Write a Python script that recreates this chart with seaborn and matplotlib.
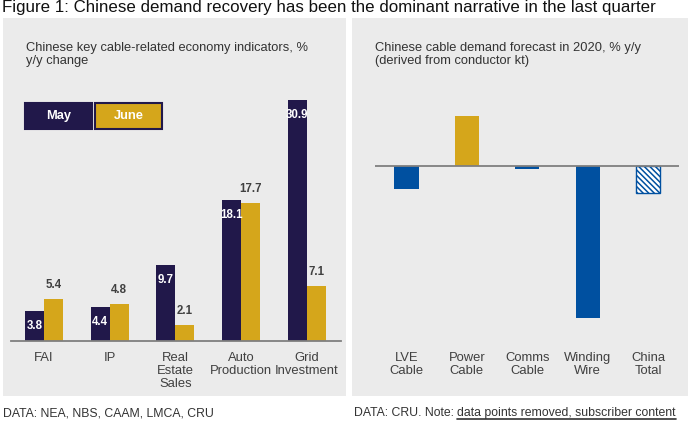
import matplotlib
matplotlib.use("Agg")
import matplotlib.pyplot as plt
import seaborn as sns
import pandas as pd
from matplotlib.patches import Rectangle
from matplotlib.lines import Line2D

# data
indicators = ["FAI", "IP", "Real\nEstate\nSales", "Auto\nProduction", "Grid\nInvestment"]
months = ["May", "June"]
may_vals = [3.8, 4.4, 9.7, 18.1, 30.9]
june_vals = [5.4, 4.8, 2.1, 17.7, 7.1]

segments = ["LVE\nCable", "Power\nCable", "Comms\nCable", "Winding\nWire", "China\nTotal"]
# values not printed in the source
forecast_vals = [-4.6, 10.0, -0.6, -30.4, -5.4]

NAVY = "#21184a"
GOLD = "#d5a61b"
BLUE = "#0050a0"
PANEL = "#ebebeb"
TXT = "#404040"

sns.set_theme(style="white")
plt.rcParams["font.family"] = ["Liberation Sans", "DejaVu Sans"]
plt.rcParams["hatch.color"] = BLUE
plt.rcParams["hatch.linewidth"] = 1.1

W, H = 698, 422
fig = plt.figure(figsize=(W / 100, H / 100), dpi=100)


def fx(px):
    return px / W


def fy(py):
    return 1 - py / H


def box(x0, y0, x1, y1):
    return [x0 / W, 1 - y1 / H, (x1 - x0) / W, (y1 - y0) / H]


# grey panels behind both charts
for x0, x1 in [(3, 346), (352, 688)]:
    fig.patches.append(Rectangle((fx(x0), fy(396)), (x1 - x0) / W, (396 - 18) / H,
                                 transform=fig.transFigure, facecolor=PANEL,
                                 edgecolor="none", zorder=-1))

fig.text(fx(2), fy(0), "Figure 1: Chinese demand recovery has been the dominant narrative in the last quarter",
         va="top", ha="left", fontsize=12.2, color="#111111")

# ---- left chart
ax1 = fig.add_axes(box(11, 84, 341, 341))
ax1.set_facecolor("none")
df1 = pd.DataFrame({
    "indicator": indicators * 2,
    "month": [m for m in months for _ in indicators],
    "value": may_vals + june_vals,
})
sns.barplot(data=df1, x="indicator", y="value", hue="month", palette=[NAVY, GOLD],
            width=0.58, saturation=1, linewidth=0, legend=False, ax=ax1)

for bar, v in zip(ax1.containers[0], may_vals):
    ax1.annotate(f"{v:.1f}", (bar.get_x() + bar.get_width() / 2, bar.get_height()),
                 xytext=(0, -15), textcoords="offset pixels", ha="center", va="center",
                 color="white", fontweight="bold", fontsize=8.3)
for bar, v in zip(ax1.containers[1], june_vals):
    ax1.annotate(f"{v:.1f}", (bar.get_x() + bar.get_width() / 2, bar.get_height()),
                 xytext=(0, 14), textcoords="offset pixels", ha="center", va="center",
                 color=TXT, fontweight="bold", fontsize=8.3)

ax1.set_xlim(-0.5, 4.52)
ax1.set_ylim(0, 33)

# ---- right chart
ax2 = fig.add_axes(box(375, 106, 679, 341))
ax2.set_facecolor("none")
df2 = pd.DataFrame({"segment": segments, "value": forecast_vals})
sns.barplot(data=df2, x="segment", y="value", hue="segment",
            palette=[BLUE, GOLD, BLUE, BLUE, BLUE], width=0.4, saturation=1,
            linewidth=0, legend=False, ax=ax2)
total_bar = ax2.patches[-1]
total_bar.set_facecolor("white")
total_bar.set_edgecolor(BLUE)
total_bar.set_linewidth(1)
total_bar.set_hatch("\\\\\\\\\\\\")
ax2.axhline(0, color="#7f7f7f", lw=1.3, zorder=3)
ax2.set_xlim(-0.52, 4.51)
ax2.set_ylim(-35, 12)

for ax in (ax1, ax2):
    sns.despine(ax=ax, left=True, top=True, right=True, bottom=(ax is ax2))
    ax.set_yticks([])
    ax.set_xlabel("")
    ax.set_ylabel("")
    ax.tick_params(axis="x", length=0, pad=8, labelsize=9.4, labelcolor=TXT)
    for lab in ax.get_xticklabels():
        lab.set_linespacing(1.1)
ax1.spines["bottom"].set_color("#7f7f7f")
ax1.spines["bottom"].set_linewidth(1.3)

# subtitles
fig.text(fx(26), fy(42), "Chinese key cable-related economy indicators, %\ny/y change",
         va="top", ha="left", fontsize=9.3, color="#333333", linespacing=1.1)
fig.text(fx(375), fy(42), "Chinese cable demand forecast in 2020, % y/y\n(derived from conductor kt)",
         va="top", ha="left", fontsize=9.3, color="#333333", linespacing=1.1)

# legend boxes
legend_boxes = [(25, 92, NAVY), (95, 162, GOLD)]
for (x0, x1, col), name in zip(legend_boxes, months):
    fig.patches.append(Rectangle((fx(x0), fy(129)), (x1 - x0) / W, 26 / H,
                                 transform=fig.transFigure, facecolor=col,
                                 edgecolor=NAVY, linewidth=1.5, zorder=2))
    fig.text(fx((x0 + x1) / 2), fy(116), name, ha="center", va="center",
             color="white", fontweight="bold", fontsize=9.3, zorder=3)

# footers
fig.text(fx(3), fy(413), "DATA: NEA, NBS, CAAM, LMCA, CRU", va="center", ha="left",
         fontsize=8.8, color="#333333")
t1 = fig.text(fx(354), fy(413), "DATA: CRU. Note: ", va="center", ha="left",
              fontsize=8.8, color="#333333")
fig.canvas.draw()
r = fig.canvas.get_renderer()
e1 = t1.get_window_extent(r)
t2 = fig.text(e1.x1 / W, fy(413), "data points removed, subscriber content", va="center",
              ha="left", fontsize=8.8, color="#333333")
fig.canvas.draw()
e2 = t2.get_window_extent(r)
fig.lines.append(Line2D([e2.x0 / W, e2.x1 / W], [(e2.y0 + 0.5) / H] * 2,
                        transform=fig.transFigure, color="#333333", lw=1.2))

fig.savefig("out.png", dpi=100)
